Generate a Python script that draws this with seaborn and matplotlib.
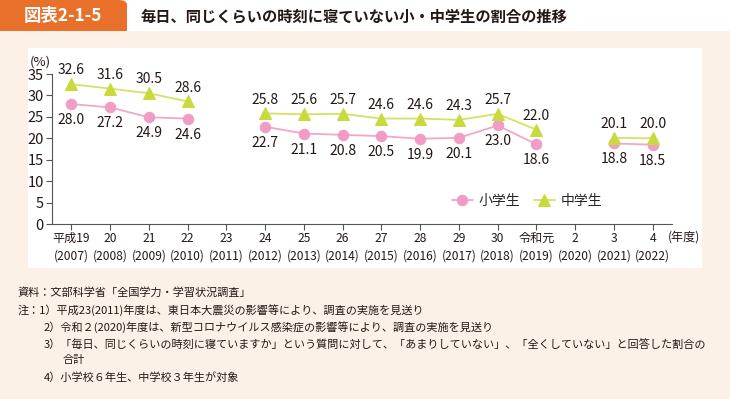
import matplotlib.pyplot as plt
import matplotlib.patches as mpatches
import numpy as np
import pandas as pd
import seaborn as sns

# データ - data
years = list(range(2007, 2023))
era_labels = ['平成19', '20', '21', '22', '23', '24', '25', '26', '27', '28',
              '29', '30', '令和元', '2', '3', '4']
elementary = [28.0, 27.2, 24.9, 24.6, np.nan, 22.7, 21.1, 20.8, 20.5, 19.9,
              20.1, 23.0, 18.6, np.nan, 18.8, 18.5]
junior = [32.6, 31.6, 30.5, 28.6, np.nan, 25.8, 25.6, 25.7, 24.6, 24.6,
          24.3, 25.7, 22.0, np.nan, 20.1, 20.0]
series_names = ['小学生', '中学生']

notes = [
    '資料：文部科学省「全国学力・学習状況調査」',
    '注：1）平成23(2011)年度は、東日本大震災の影響等により、調査の実施を見送り',
    '2）令和２(2020)年度は、新型コロナウイルス感染症の影響等により、調査の実施を見送り',
    '3）「毎日、同じくらいの時刻に寝ていますか」という質問に対して、「あまりしていない」、「全くしていない」と回答した割合の',
    '合計',
    '4）小学校６年生、中学校３年生が対象',
]

df = pd.DataFrame({'年度': years, '小学生': elementary, '中学生': junior})
# 調査なしの年で線を切る - split lines at the missing years
df['区間'] = df['小学生'].isna().cumsum()

sns.set_style('white')
plt.rcParams['font.family'] = ['Noto Sans CJK JP', 'DejaVu Sans']

bg = '#FCF1E7'
orange = '#E8702A'
pink_line = '#F4A6C9'
pink_mark = '#F09CC4'
green_line = '#D4E264'
green_mark = '#C8DA3C'
txt = '#231815'

fig = plt.figure(figsize=(7.3, 3.99), dpi=100)
fig.patch.set_facecolor(bg)

# ヘッダー - header
fig.patches.append(mpatches.Rectangle((0, 1 - 31 / 399), 1, 31 / 399, transform=fig.transFigure,
                                      facecolor='white', edgecolor='none', zorder=-2))
fig.patches.append(mpatches.FancyBboxPatch((0, 1 - 31 / 399), 127 / 730, 31 / 399,
                                           boxstyle='round,pad=0,rounding_size=0.012',
                                           transform=fig.transFigure, facecolor=orange,
                                           edgecolor='none', zorder=-1))
fig.patches.append(mpatches.Rectangle((0, 1 - 31 / 399), 110 / 730, 31 / 399, transform=fig.transFigure,
                                      facecolor=orange, edgecolor='none', zorder=-1))
fig.patches.append(mpatches.Rectangle((0, 1 - 31 / 399), 127 / 730, 14 / 399, transform=fig.transFigure,
                                      facecolor=orange, edgecolor='none', zorder=-1))
fig.text(63 / 730, 1 - 16 / 399, '図表2-1-5', ha='center', va='center', color='white',
         fontsize=12.5, fontweight='bold')
fig.text(140 / 730, 1 - 16 / 399, '毎日、同じくらいの時刻に寝ていない小・中学生の割合の推移',
         ha='left', va='center', color=txt, fontsize=11, fontweight='bold')

# 白いパネル - white panel
fig.patches.append(mpatches.Rectangle((28 / 730, 1 - 268 / 399), 674 / 730, 220 / 399,
                                      transform=fig.transFigure, facecolor='white',
                                      edgecolor='none', zorder=-2))

ax = fig.add_axes([52 / 730, 1 - 224 / 399, 620 / 730, 150 / 399])
ax.set_facecolor('none')
ax.set_zorder(5)

styles = {'小学生': (pink_line, pink_mark, 'o', 7.5), '中学生': (green_line, green_mark, '^', 8)}
for name in series_names:
    lc, mc, mk, ms = styles[name]
    first = True
    for _, seg in df.dropna(subset=[name]).groupby('区間'):
        sns.lineplot(data=seg, x='年度', y=name, ax=ax, color=lc, lw=1.3,
                     marker=mk, markersize=ms, markerfacecolor=mc, markeredgecolor=mc,
                     label=name if first else None)
        first = False

for x, e, j in zip(years, elementary, junior):
    if not np.isnan(j):
        ax.annotate(f'{j:.1f}', (x, j), xytext=(0, 10), textcoords='offset points',
                    ha='center', va='center', fontsize=10, color=txt)
    if not np.isnan(e):
        ax.annotate(f'{e:.1f}', (x, e), xytext=(0, -11.5), textcoords='offset points',
                    ha='center', va='center', fontsize=10, color=txt)

ax.set_xlim(2006.5, 2022.5)
ax.set_ylim(0, 35)
ax.set_yticks(range(0, 36, 5))
ax.set_xticks(years)
ax.set_xticklabels([f'{e}\n({y})' for e, y in zip(era_labels, years)], linespacing=1.45)
ax.set_xlabel('')
ax.set_ylabel('')
sns.despine(ax=ax)
for s in ['left', 'bottom']:
    ax.spines[s].set_color('#555555')
    ax.spines[s].set_linewidth(0.8)
ax.tick_params(axis='both', direction='out', length=4, width=0.8, color='#555555',
               labelcolor=txt, left=True, bottom=True)
ax.tick_params(axis='y', labelsize=10.5, pad=2)
ax.tick_params(axis='x', labelsize=8.7, pad=1.5)

ax.text(-0.036, 1.08, '(%)', transform=ax.transAxes, ha='left', va='center', fontsize=9.5, color=txt)
ax.text(2022.4, -3.0, '(年度)', ha='left', va='center', fontsize=8.7, color=txt, clip_on=False)

ax.legend(loc='center', bbox_to_anchor=(0.766, 0.155), ncol=2, frameon=False,
          fontsize=10, handlelength=1.5, handletextpad=0.4, columnspacing=1.0)

# 注記 - notes
ys = [293, 310, 327, 344, 360, 378]
xs = [18, 18, 44, 44, 63, 44]
for t, x, y in zip(notes, xs, ys):
    fig.text(x / 730, 1 - y / 399, t, ha='left', va='center', fontsize=8, color=txt)

fig.savefig('out.png', dpi=100, facecolor=bg)
